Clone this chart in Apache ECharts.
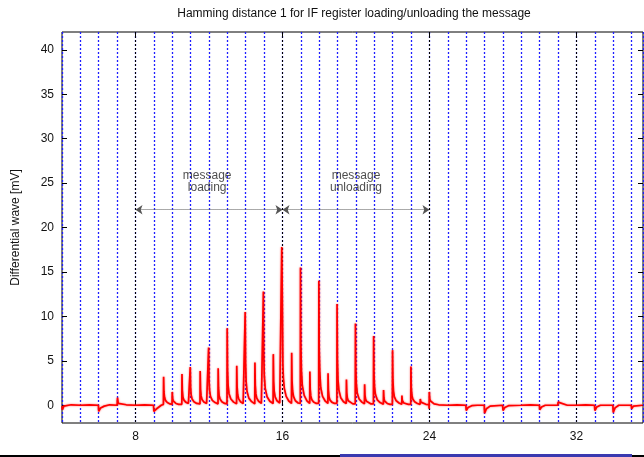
<!DOCTYPE html>
<html>
<head>
<meta charset="utf-8">
<script src="https://cdn.jsdelivr.net/npm/echarts@6/dist/echarts.min.js"></script>
<style>
  html, body { margin: 0; padding: 0; background: #fff; }
  #main { width: 644px; height: 457px; }
</style>
</head>
<body>
<div id="main"></div>
<script>
// tick labels
const xTickValues = [8, 16, 24, 32];
const yTickValues = [0, 5, 10, 15, 20, 25, 30, 35, 40];

// differential wave [time (clock cycles), mV]
const waveBefore = [
  [4.0, -0.1], [4.02, -0.5], [4.1, -0.1], [4.5, 0.05], [5.0, 0.0], [5.5, 0.05],
  [5.98, 0.0], [6.0, -0.7], [6.1, -0.3], [6.3, -0.1], [6.6, 0.05], [7.0, 0.0],
  [7.02, 0.85], [7.06, 0.2], [7.5, 0.05], [8.0, 0.0], [8.5, 0.05], [8.98, 0.0],
  [9.0, -0.7], [9.15, -0.4], [9.4, 0.0]
];
const waveLoading = [
  [9.52, 0.1], [9.53, 3.2], [9.55, 1.5], [9.58, 0.9], [9.63, 0.55], [9.73, 0.3], [9.88, 0.15],
  [9.99, 0.1], [10.0, 1.5], [10.02, 0.8], [10.05, 0.5], [10.1, 0.3], [10.2, 0.2], [10.35, 0.1],
  [10.52, 0.1], [10.53, 3.5], [10.55, 1.65], [10.58, 0.95], [10.63, 0.6], [10.73, 0.35], [10.88, 0.2],
  [10.97, 0.15], [10.98, 4.3], [11.0, 2.0], [11.03, 1.15], [11.08, 0.7], [11.18, 0.4], [11.33, 0.2],
  [11.51, 0.15], [11.52, 3.85], [11.54, 1.8], [11.57, 1.05], [11.62, 0.65], [11.72, 0.37], [11.87, 0.2],
  [11.97, 0.15], [11.98, 6.5], [12.0, 3.0], [12.03, 1.7], [12.08, 1.0], [12.18, 0.55], [12.33, 0.3],
  [12.49, 0.15], [12.5, 4.15], [12.52, 1.95], [12.55, 1.1], [12.6, 0.7], [12.7, 0.4], [12.85, 0.2],
  [12.98, 0.15], [12.99, 8.65], [13.01, 4.0], [13.04, 2.25], [13.09, 1.3], [13.19, 0.7], [13.34, 0.35],
  [13.5, 0.15], [13.51, 4.45], [13.53, 2.1], [13.56, 1.2], [13.61, 0.75], [13.71, 0.4], [13.86, 0.2],
  [13.96, 0.15], [13.97, 10.5], [13.99, 4.85], [14.02, 2.7], [14.07, 1.55], [14.17, 0.8], [14.32, 0.4],
  [14.49, 0.15], [14.5, 4.8], [14.52, 2.25], [14.55, 1.3], [14.6, 0.8], [14.7, 0.45], [14.85, 0.2],
  [14.95, 0.15], [14.96, 12.8], [14.98, 5.8], [15.01, 3.3], [15.06, 1.9], [15.16, 0.95], [15.31, 0.45],
  [15.49, 0.2], [15.5, 5.75], [15.52, 2.7], [15.55, 1.55], [15.6, 0.95], [15.7, 0.5], [15.85, 0.25],
  [15.95, 0.2], [15.96, 17.8], [15.98, 14.3], [16.02, 4.7], [16.05, 3.0], [16.1, 1.9], [16.2, 1.0], [16.35, 0.45]
];
const waveUnloading = [
  [16.49, 0.2], [16.5, 5.9], [16.52, 2.75], [16.55, 1.6], [16.6, 1.0], [16.7, 0.5], [16.85, 0.25],
  [16.97, 0.2], [16.98, 15.5], [17.0, 7.0], [17.03, 3.9], [17.08, 2.2], [17.18, 1.1], [17.33, 0.5],
  [17.48, 0.2], [17.49, 3.8], [17.51, 1.8], [17.54, 1.05], [17.59, 0.65], [17.69, 0.37], [17.84, 0.2],
  [17.97, 0.2], [17.98, 14.0], [18.0, 6.3], [18.03, 3.8], [18.08, 2.0], [18.18, 1.0], [18.33, 0.45],
  [18.47, 0.2], [18.48, 3.6], [18.5, 1.7], [18.53, 1.0], [18.58, 0.6], [18.68, 0.35], [18.83, 0.2],
  [18.96, 0.2], [18.97, 11.4], [18.99, 5.2], [19.02, 2.9], [19.07, 1.7], [19.17, 0.85], [19.32, 0.4],
  [19.47, 0.2], [19.48, 2.9], [19.5, 1.4], [19.53, 0.8], [19.58, 0.5], [19.68, 0.3], [19.83, 0.15],
  [19.96, 0.15], [19.97, 9.2], [19.99, 4.2], [20.02, 2.35], [20.07, 1.35], [20.17, 0.7], [20.32, 0.35],
  [20.46, 0.15], [20.47, 2.35], [20.49, 1.15], [20.52, 0.7], [20.57, 0.45], [20.67, 0.25], [20.82, 0.15],
  [20.95, 0.15], [20.96, 7.8], [20.98, 3.6], [21.01, 2.0], [21.06, 1.2], [21.16, 0.6], [21.31, 0.3],
  [21.49, 0.1], [21.5, 1.7], [21.52, 0.85], [21.55, 0.5], [21.6, 0.35], [21.7, 0.2], [21.85, 0.1],
  [21.98, 0.1], [21.99, 6.2], [22.01, 2.85], [22.04, 1.6], [22.09, 0.95], [22.19, 0.5], [22.34, 0.25],
  [22.49, 0.1], [22.5, 1.1], [22.52, 0.55], [22.55, 0.35], [22.6, 0.25], [22.7, 0.15], [22.85, 0.1],
  [22.98, 0.1], [22.99, 4.35], [23.01, 2.0], [23.04, 1.15], [23.09, 0.7], [23.19, 0.4], [23.34, 0.2],
  [23.49, 0.1], [23.5, 0.7], [23.53, 0.35], [23.6, 0.2], [23.8, 0.1],
  [23.97, 0.05], [23.98, -0.4], [23.99, 1.5], [24.01, 0.8], [24.04, 0.5], [24.1, 0.3], [24.25, 0.15]
];
const waveAfter = [
  [24.5, 0.05], [25.0, 0.0], [25.5, 0.05], [25.98, 0.0], [26.0, -0.6], [26.1, -0.25], [26.3, -0.05],
  [26.6, 0.0], [26.98, 0.0], [27.0, -0.9], [27.1, -0.4], [27.3, -0.1], [27.98, 0.0], [28.0, -0.6],
  [28.1, -0.25], [28.3, -0.05], [29.0, 0.0], [29.5, 0.05], [29.98, 0.0], [30.0, -0.5], [30.1, -0.2],
  [30.3, 0.0], [30.98, 0.0], [31.0, 0.35], [31.1, 0.15], [31.5, 0.0], [32.0, 0.0], [32.5, 0.05],
  [32.98, 0.0], [33.0, -0.6], [33.1, -0.2], [33.3, 0.0], [33.98, 0.0], [34.0, -0.8], [34.1, -0.3],
  [34.3, 0.0], [34.98, 0.0], [35.0, -0.4], [35.1, -0.1], [35.6, 0.0]
];

// annotations
const arrowLevel = 22;
const arrowSpans = [[8, 16], [16, 24]];
const notes = [[11.9, 25.15, "message\nloading"], [20, 25.15, "message\nunloading"]];

const FONT = "Liberation Sans";
const X_MIN = 4;
const X_MAX = 35.62; // 581px wide -> 8 cycles = 147px, keeps major lines on pixel centres
const Y_MIN = -2;
const Y_MAX = 42;

const chart = echarts.init(document.getElementById("main"));
chart.setOption({
  animation: false,
  textStyle: { fontFamily: FONT },
  grid: {
    left: 62,
    right: 1,
    top: 32,
    bottom: 34,
    show: true,
    borderColor: "#000",
    borderWidth: 1,
    outerBoundsMode: "none",
  },
  graphic: [
    {
      type: "text",
      x: 354,
      y: 14,
      style: {
        text: "Hamming distance 1 for IF register loading/unloading the message",
        font: "12px " + FONT,
        fill: "#111",
        textAlign: "center",
        textVerticalAlign: "middle",
      },
    },
    // strip along the bottom edge of the picture
    { type: "rect", shape: { x: 0, y: 455, width: 340, height: 2 }, style: { fill: "#000" }, z: 100 },
    { type: "rect", shape: { x: 340, y: 454, width: 292, height: 3 }, style: { fill: "#3a3ab0" }, z: 100 },
    { type: "rect", shape: { x: 632, y: 455, width: 12, height: 2 }, style: { fill: "#000" }, z: 100 },
  ],
  xAxis: [
    {
      // minor grid: one blue dotted line per clock cycle
      type: "value",
      min: X_MIN,
      max: X_MAX,
      interval: 1,
      axisLine: { show: false },
      axisTick: { show: false },
      axisLabel: { show: false },
      splitLine: {
        show: true,
        lineStyle: { color: "#1f1fff", width: 1.3, type: [2, 2] },
      },
    },
    {
      // major ticks and labels every 8 cycles
      type: "value",
      position: "bottom",
      min: X_MIN,
      max: X_MAX,
      name: "Time [clock cycles]",
      nameLocation: "middle",
      nameGap: 32,
      nameTextStyle: { fontSize: 12, color: "#111", fontFamily: FONT },
      axisLine: { show: false },
      axisTick: { show: true, inside: true, length: 5, customValues: xTickValues, lineStyle: { color: "#000" } },
      axisLabel: { customValues: xTickValues, margin: 8, fontSize: 12, color: "#111", fontFamily: FONT },
      splitLine: { show: false },
    },
    {
      type: "value",
      position: "top",
      min: X_MIN,
      max: X_MAX,
      axisLine: { show: false },
      axisTick: { show: true, inside: true, length: 5, customValues: xTickValues, lineStyle: { color: "#000" } },
      axisLabel: { show: false },
      splitLine: { show: false },
    },
  ],
  yAxis: [
    {
      type: "value",
      min: Y_MIN,
      max: Y_MAX,
      name: "Differential wave [mV]",
      nameLocation: "middle",
      nameGap: 40,
      nameRotate: 90,
      nameTextStyle: { fontSize: 12, color: "#111", fontFamily: FONT },
      axisLine: { show: false },
      axisTick: { show: true, inside: true, length: 5, customValues: yTickValues, lineStyle: { color: "#000" } },
      axisLabel: { customValues: yTickValues, margin: 8, fontSize: 12, color: "#111", fontFamily: FONT },
      splitLine: { show: false },
    },
    {
      type: "value",
      position: "right",
      min: Y_MIN,
      max: Y_MAX,
      axisLine: { show: false },
      axisTick: { show: true, inside: true, length: 5, customValues: yTickValues, lineStyle: { color: "#000" } },
      axisLabel: { show: false },
      splitLine: { show: false },
    },
  ],
  series: [
    {
      name: "wave",
      type: "line",
      xAxisIndex: 1,
      symbol: "none",
      clip: true,
      data: waveBefore.concat(waveLoading, waveUnloading, waveAfter),
      lineStyle: {
        color: "#ff0000",
        width: 1.7,
        shadowBlur: 2,
        shadowColor: "rgba(255,0,0,0.6)",
      },
      itemStyle: { color: "#ff0000" },
      z: 5,
      markLine: {
        silent: true,
        symbol: ["arrow", "arrow"],
        symbolSize: 7,
        label: { show: false },
        lineStyle: { color: "#555", width: 1, type: [1, 1] },
        emphasis: { disabled: true },
        data: arrowSpans.map((s) => [
          { coord: [s[0], arrowLevel] },
          { coord: [s[1], arrowLevel] },
        ]),
      },
    },
    {
      name: "notes",
      type: "scatter",
      xAxisIndex: 1,
      symbolSize: 1,
      itemStyle: { color: "transparent" },
      silent: true,
      data: notes,
      label: {
        show: true,
        position: "inside",
        formatter: (p) => p.data[2],
        fontSize: 12,
        lineHeight: 12,
        color: "#222",
        fontFamily: FONT,
      },
      z: 3,
      // major grid: black dotted lines every 8 cycles, drawn top to bottom like the split lines
      markLine: {
        silent: true,
        symbol: "none",
        label: { show: false },
        lineStyle: { color: "#000", width: 1, type: [2, 2] },
        emphasis: { disabled: true },
        data: xTickValues.map((v) => [
          { coord: [v, Y_MAX] },
          { coord: [v, Y_MIN] },
        ]),
      },
    },
  ],
});
</script>
</body>
</html>
